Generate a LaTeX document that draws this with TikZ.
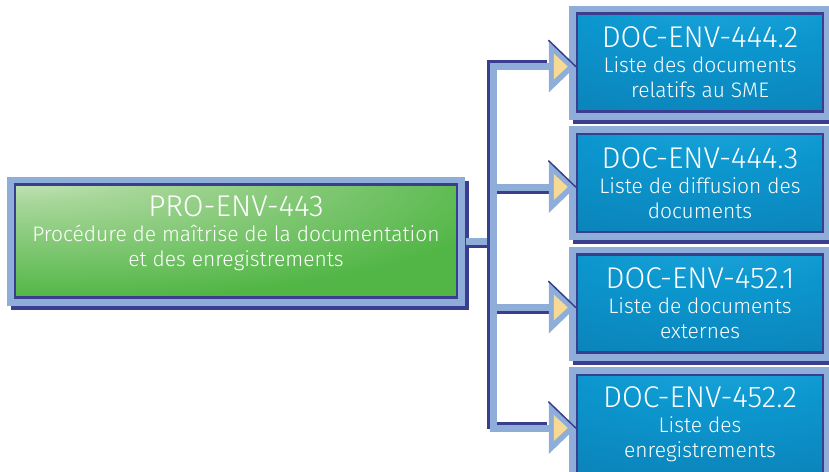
\documentclass[tikz,border=0pt]{standalone}
\usepackage{fontspec}
\setmainfont{Fira Sans Light}
\usepackage{xcolor}
\usetikzlibrary{positioning}
\definecolor{navy}{HTML}{3B3E8E}
\definecolor{frameblue}{HTML}{8EAED9}
\definecolor{boxgreen}{HTML}{52B646}
\definecolor{glowgreen}{HTML}{EEF6E8}
\definecolor{halfgreen}{HTML}{A6D698}
\definecolor{bluelight}{HTML}{28B0E4}
\definecolor{bluemid}{HTML}{0C97CF}
\definecolor{bluedark}{HTML}{0A76AB}
\definecolor{bluedeep}{HTML}{09547F}
\definecolor{arrowyellow}{HTML}{F7D996}
\newcommand{\codefont}{\fontsize{30}{32}\selectfont}
\newcommand{\descfont}{\fontsize{21}{25}\selectfont}
\pgfdeclareradialshading{greenglow}{\pgfpoint{-30bp}{40bp}}{color(0bp)=(glowgreen); color(18bp)=(halfgreen); color(50bp)=(boxgreen); color(130bp)=(boxgreen)}
\pgfdeclareradialshading{blueglow}{\pgfpoint{5bp}{50bp}}{color(0bp)=(bluelight); color(30bp)=(bluemid); color(80bp)=(bluedark); color(130bp)=(bluedeep)}
\tikzset{
  framed/.style={draw=navy, line width=2.5pt, inner sep=0pt, text=white, align=center, font=\descfont,
    preaction={draw=navy, line width=16pt, transform canvas={shift={(4pt,-4pt)}}},
    preaction={draw=frameblue, line width=16pt}},
  mainbox/.style={framed, shading=greenglow, minimum width=442, minimum height=113},
  docbox/.style={framed, shading=blueglow, minimum width=246, minimum height=98},
  rail/.style={draw=frameblue, line width=7pt,
    preaction={draw=navy, line width=7pt, transform canvas={shift={(-3pt,3pt)}}}},
  twig/.style={draw=frameblue, line width=7pt,
    preaction={draw=navy, line width=7pt, transform canvas={shift={(0pt,-3pt)}}}},
  pointer/.pic={
    \fill[frameblue] (-27,-26) -- (0,0) -- (-27,26) -- cycle;
    \draw[navy, line width=1.5pt, line cap=round] (-27,-26) -- (0,0);
    \fill[arrowyellow] (-22,-13) -- (-8,0) -- (-22,13) -- cycle;
  }
}

\begin{document}
\begin{tikzpicture}[x=1pt,y=-1pt]
\useasboundingbox (0,0) rectangle (829,471);

% boxes
\node[mainbox] (pro) at (236,241) {{\codefont PRO-ENV-443}\\Procédure de maîtrise de la documentation\\et des enregistrements\\[-6pt]};
\node[docbox] (d1) at (700,62.5) {{\codefont DOC-ENV-444.2}\\Liste des documents\\relatifs au SME};
\node[docbox, below=20pt of d1] (d2) {{\codefont DOC-ENV-444.3}\\Liste de diffusion des\\documents};
\node[docbox, below=20pt of d2] (d3) {{\codefont DOC-ENV-452.1}\\Liste de documents\\externes};
\node[docbox, below=20pt of d3] (d4) {{\codefont DOC-ENV-452.2}\\Liste des\\enregistrements};

% connectors
\coordinate (hub) at (493,242);
\foreach \i in {1,...,4} \coordinate (t\i) at ([yshift=-4pt]d\i.west);
\draw[twig] ([xshift=8pt]pro.east) -- (pro.east -| hub);
\draw[twig] (hub |- t2) -- ([xshift=-26pt]t2);
\draw[twig] (hub |- t3) -- ([xshift=-26pt]t3);
\draw[rail] ([xshift=-26pt]t1) -| (hub) |- ([xshift=-26pt]t4);
\foreach \i in {1,...,4} \pic at (t\i) {pointer};
\end{tikzpicture}
\end{document}
